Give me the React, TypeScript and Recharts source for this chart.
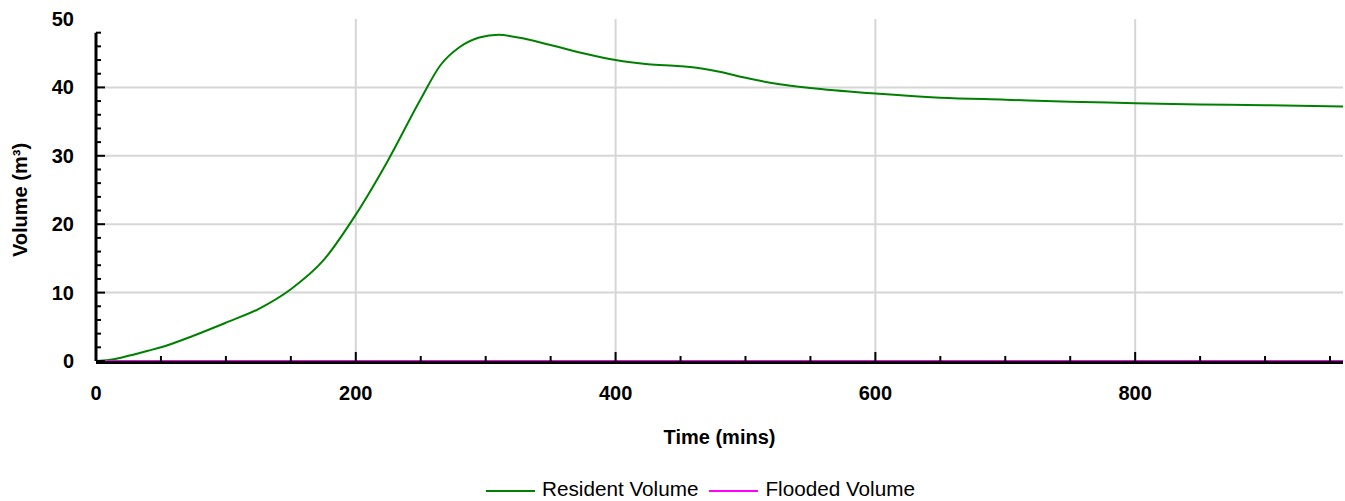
import { LineChart, Line, XAxis, YAxis, ReferenceLine, Legend, Label } from 'recharts'

const timeMins = [
  0, 10, 20, 30, 40, 50, 75, 100, 125, 150, 175, 200, 225, 250, 265, 280, 295, 310, 325, 350,
  375, 400, 425, 450, 465, 480, 500, 525, 550, 600, 650, 700, 750, 800, 850, 900, 960,
]
const residentVolume = [
  0, 0.15, 0.5, 1.0, 1.5, 2.0, 3.7, 5.6, 7.6, 10.5, 14.7, 21.4, 29.4, 38.3, 43.2, 45.9, 47.3,
  47.7, 47.3, 46.2, 45.0, 44.0, 43.4, 43.1, 42.8, 42.3, 41.4, 40.5, 39.9, 39.1, 38.5, 38.2,
  37.9, 37.7, 37.5, 37.4, 37.2,
]
const floodedVolume = [
  0, 0, 0, 0, 0, 0, 0, 0, 0, 0, 0, 0, 0, 0, 0, 0, 0, 0, 0, 0, 0, 0, 0, 0, 0, 0, 0, 0, 0, 0, 0,
  0, 0, 0, 0, 0, 0,
]

const xTicks = [0, 50, 100, 150, 200, 250, 300, 350, 400, 450, 500, 550, 600, 650, 700, 750, 800, 850, 900, 950]
const xLabels = [0, 200, 400, 600, 800]
const yTicks = [0, 2, 4, 6, 8, 10, 12, 14, 16, 18, 20, 22, 24, 26, 28, 30, 32, 34, 36, 38, 40, 42, 44, 46, 48, 50]
const yLabels = [0, 10, 20, 30, 40, 50]
const xGrid = [200, 400, 600, 800]
const yGrid = [10, 20, 30, 40]
const yAxisTop = 48

const data = timeMins.map((t, i) => ({
  t,
  resident: residentVolume[i],
  flooded: floodedVolume[i],
}))

const FONT = '"Liberation Sans", Arial, sans-serif'
const GRID = '#d6d6d6'

const XTick = ({ x, y, payload }: any) => {
  const v = payload.value
  const major = xLabels.includes(v)
  return (
    <g>
      <line x1={x} x2={x} y1={y} y2={y - (major ? 9 : 5)} stroke="#000" strokeWidth={2} />
      {major && (
        <text x={x} y={y + 39} textAnchor="middle" fontFamily={FONT} fontWeight="bold" fontSize={20} fill="#000">
          {v}
        </text>
      )}
    </g>
  )
}

const YTick = ({ x, y, payload }: any) => {
  const v = payload.value
  const labelled = yLabels.includes(v)
  return (
    <g>
      {v <= yAxisTop && (
        <line x1={x} x2={x + (labelled ? 9 : 5)} y1={y} y2={y} stroke="#000" strokeWidth={2} />
      )}
      {labelled && (
        <text x={x - 22} y={y + 7} textAnchor="end" fontFamily={FONT} fontWeight="bold" fontSize={20} fill="#000">
          {v}
        </text>
      )}
    </g>
  )
}

const YTitle = ({ viewBox }: any) => {
  const cx = viewBox.x + 27
  const cy = 200
  return (
    <text
      x={cx}
      y={cy}
      transform={`rotate(-90 ${cx} ${cy})`}
      textAnchor="middle"
      fontFamily={FONT}
      fontWeight="bold"
      fontSize={20}
      fill="#000"
    >
      Volume (m³)
    </text>
  )
}

const legendItems = [
  { name: 'Resident Volume', color: '#008000' },
  { name: 'Flooded Volume', color: '#ff00ff' },
]

const LegendBox = () => (
  <div
    style={{
      height: 46,
      boxSizing: 'border-box',
      paddingTop: 26,
      paddingLeft: 58,
      display: 'flex',
      justifyContent: 'center',
      alignItems: 'center',
      fontFamily: FONT,
      fontSize: 20.7,
      lineHeight: '20px',
      color: '#000',
    }}
  >
    {legendItems.map((it, i) => (
      <div key={it.name} style={{ display: 'flex', alignItems: 'center', marginLeft: i ? 11 : 0 }}>
        <svg width={49} height={10} style={{ marginRight: 7 }}>
          <line x1={0} x2={49} y1={5} y2={5} stroke={it.color} strokeWidth={2} />
        </svg>
        <span style={{ position: 'relative', top: -2 }}>{it.name}</span>
      </div>
    ))}
  </div>
)

export default function App() {
  return (
    <div style={{ position: 'absolute', left: 0, top: 0, width: 1345, height: 501, background: '#fff' }}>
      <LineChart width={1345} height={501} data={data} margin={{ top: 19, right: 2, bottom: 0, left: 0 }}>
        {xGrid.map((v) => (
          <ReferenceLine key={'gx' + v} x={v} stroke={GRID} strokeWidth={2} />
        ))}
        {yGrid.map((v) => (
          <ReferenceLine key={'gy' + v} y={v} stroke={GRID} strokeWidth={2} />
        ))}
        <XAxis
          dataKey="t"
          type="number"
          domain={[0, 960]}
          ticks={xTicks}
          interval={0}
          height={94}
          tickSize={0}
          tickMargin={0}
          tickLine={false}
          tick={<XTick />}
          axisLine={{ stroke: '#000', strokeWidth: 3, transform: 'translate(0,1.5)' }}
        >
          <Label
            value="Time (mins)"
            position="insideBottom"
            offset={11}
            style={{ fontFamily: FONT, fontWeight: 'bold', fontSize: 20, fill: '#000' }}
          />
        </XAxis>
        <YAxis
          type="number"
          domain={[0, 50]}
          ticks={yTicks}
          interval={0}
          width={96}
          tickSize={0}
          tickMargin={0}
          tickLine={false}
          tick={<YTick />}
          axisLine={false}
        >
          <Label content={<YTitle />} />
        </YAxis>
        <ReferenceLine
          segment={[
            { x: 0, y: 0 },
            { x: 0, y: yAxisTop },
          ]}
          stroke="#000"
          strokeWidth={3}
        />
        <Line
          type="monotone"
          dataKey="resident"
          name="Resident Volume"
          stroke="#008000"
          strokeWidth={2}
          dot={false}
          isAnimationActive={false}
        />
        <Line
          type="monotone"
          dataKey="flooded"
          name="Flooded Volume"
          stroke="#ff00ff"
          strokeWidth={2}
          dot={false}
          isAnimationActive={false}
        />
        <Legend verticalAlign="bottom" content={<LegendBox />} />
      </LineChart>
    </div>
  )
}
